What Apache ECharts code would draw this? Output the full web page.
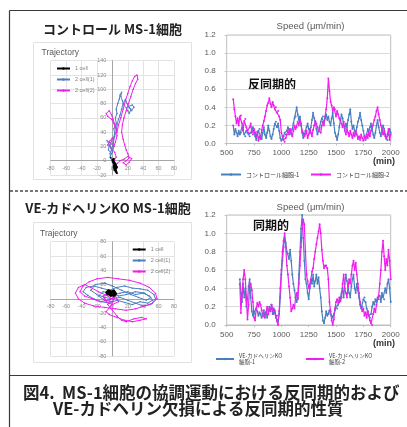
<!DOCTYPE html>
<html>
<head>
<meta charset="utf-8">
<script src="https://cdn.jsdelivr.net/npm/echarts@6/dist/echarts.min.js"></script>
<style>
  html, body { margin: 0; padding: 0; background: #fff; }
  #chart { width: 407px; height: 427px; }
</style>
</head>
<body>
<div id="chart"></div>
<script>
// sampling grid of the speed curves (min)
const ctrlStart = 560;
const koStart = 620;
const timeStep = 10;

// control MS-1, speed (um/min)
const ctrlCell1 = [
  0.20, 0.10, 0.16, 0.12, 0.08, 0.14, 0.10, 0.12, 0.18, 0.14,
  0.10, 0.08, 0.14, 0.12, 0.10, 0.08, 0.12, 0.15, 0.18, 0.12,
  0.08, 0.04, 0.10, 0.14, 0.16, 0.08, 0.05, 0.12, 0.18, 0.10,
  0.06, 0.12, 0.20, 0.14, 0.08, 0.05, 0.10, 0.16, 0.22, 0.24,
  0.18, 0.22, 0.14, 0.06, 0.03, 0.05, 0.08, 0.12, 0.10, 0.14,
  0.18, 0.16, 0.12, 0.10, 0.16, 0.22, 0.28, 0.30, 0.40, 0.32,
  0.26, 0.30, 0.20, 0.12, 0.06, 0.08, 0.14, 0.18, 0.22, 0.16,
  0.12, 0.18, 0.26, 0.34, 0.28, 0.24, 0.16, 0.10, 0.14, 0.18,
  0.24, 0.28, 0.30, 0.24, 0.28, 0.32, 0.26, 0.30, 0.24, 0.20,
  0.28, 0.34, 0.22, 0.12, 0.08, 0.04, 0.10, 0.18, 0.26, 0.32,
  0.28, 0.20, 0.16, 0.22, 0.18, 0.26, 0.32, 0.38, 0.24, 0.16,
  0.20, 0.14, 0.10, 0.18, 0.24, 0.28, 0.34, 0.26, 0.20, 0.14,
  0.08, 0.04, 0.10, 0.16, 0.12, 0.18, 0.22, 0.16, 0.10, 0.06,
  0.12, 0.20, 0.26, 0.18, 0.12, 0.08, 0.14, 0.20, 0.16, 0.10,
  0.06, 0.04, 0.10, 0.16, 0.12
];
const ctrlCell2 = [
  0.49, 0.38, 0.30, 0.22, 0.28, 0.20, 0.30, 0.31, 0.22, 0.15,
  0.25, 0.27, 0.18, 0.14, 0.12, 0.18, 0.22, 0.12, 0.10, 0.16,
  0.12, 0.08, 0.13, 0.03, 0.08, 0.05, 0.15, 0.20, 0.25, 0.30,
  0.36, 0.42, 0.45, 0.50, 0.44, 0.40, 0.46, 0.42, 0.38, 0.40,
  0.34, 0.36, 0.30, 0.26, 0.12, 0.08, 0.04, 0.02, 0.06, 0.10,
  0.14, 0.10, 0.16, 0.12, 0.08, 0.14, 0.20, 0.16, 0.18, 0.24,
  0.20, 0.26, 0.22, 0.14, 0.12, 0.08, 0.10, 0.14, 0.06, 0.10,
  0.16, 0.12, 0.08, 0.15, 0.20, 0.25, 0.22, 0.18, 0.14, 0.16,
  0.12, 0.20, 0.24, 0.20, 0.30, 0.38, 0.50, 0.72, 0.58, 0.46,
  0.42, 0.36, 0.40, 0.38, 0.30, 0.36, 0.32, 0.28, 0.26, 0.22,
  0.18, 0.24, 0.14, 0.10, 0.16, 0.12, 0.08, 0.14, 0.10, 0.06,
  0.12, 0.08, 0.14, 0.10, 0.05, 0.08, 0.04, 0.10, 0.06, 0.03,
  0.08, 0.05, 0.10, 0.06, 0.12, 0.08, 0.14, 0.18, 0.20, 0.26,
  0.30, 0.36, 0.40, 0.32, 0.26, 0.20, 0.16, 0.10, 0.14, 0.08,
  0.05, 0.10, 0.16, 0.04, 0.10
];

// VE-cadherin KO MS-1, speed (um/min)
const koCell1 = [
  0.50, 0.35, 0.25, 0.45, 0.30, 0.40, 0.20, 0.28, 0.42, 0.50,
  0.30, 0.15, 0.10, 0.14, 0.12, 0.18, 0.15, 0.10, 0.14, 0.12,
  0.08, 0.12, 0.16, 0.10, 0.14, 0.08, 0.12, 0.20, 0.15, 0.22,
  0.12, 0.18, 0.14, 0.08, 0.10, 0.05, 0.12, 0.30, 0.55, 0.70,
  0.85, 0.95, 0.90, 0.80, 0.78, 0.72, 0.82, 0.70, 0.55, 0.45,
  0.38, 0.30, 0.25, 0.30, 0.55, 0.80, 1.05, 1.20, 0.95, 0.70,
  0.50, 0.45, 0.35, 0.28, 0.40, 0.50, 0.45, 0.55, 0.42, 0.48,
  0.55, 0.45, 0.52, 0.40, 0.30, 0.15, 0.05, 0.02, 0.08, 0.15,
  0.10, 0.12, 0.16, 0.12, 0.10, 0.08, 0.12, 0.16, 0.20, 0.18,
  0.22, 0.25, 0.30, 0.35, 0.40, 0.30, 0.45, 0.55, 0.48, 0.40,
  0.35, 0.30, 0.42, 0.50, 0.55, 0.40, 0.35, 0.45, 0.38, 0.30,
  0.22, 0.18, 0.20, 0.28, 0.30, 0.25, 0.18, 0.15, 0.10, 0.08,
  0.12, 0.20, 0.25, 0.22, 0.28, 0.25, 0.30, 0.28, 0.32, 0.25,
  0.35, 0.30, 0.28, 0.40, 0.35, 0.45, 0.50, 0.40, 0.25
];
const koCell2 = [
  0.45, 0.13, 0.35, 0.50, 0.60, 0.50, 0.30, 0.06, 0.22, 0.42,
  0.45, 0.38, 0.25, 0.08, 0.05, 0.18, 0.24, 0.20, 0.25, 0.22,
  0.16, 0.10, 0.12, 0.08, 0.14, 0.20, 0.12, 0.18, 0.15, 0.22,
  0.18, 0.12, 0.16, 0.10, 0.04, 0.00, 0.15, 0.40, 0.60, 0.80,
  0.92, 1.00, 0.85, 0.65, 0.55, 0.42, 0.30, 0.15, 0.18, 0.22,
  0.18, 0.30, 0.35, 0.28, 0.45, 0.65, 0.85, 1.05, 1.15, 1.10,
  0.80, 0.55, 0.48, 0.40, 0.42, 0.50, 0.58, 0.62, 0.72, 0.80,
  0.88, 0.95, 1.02, 1.10, 1.00, 0.82, 0.70, 0.62, 0.65, 0.65,
  0.62, 0.50, 0.25, 0.15, 0.05, 0.00, 0.06, 0.18, 0.25, 0.28,
  0.24, 0.30, 0.26, 0.30, 0.45, 0.55, 0.40, 0.35, 0.30, 0.42,
  0.50, 0.45, 0.55, 0.65, 0.70, 0.60, 0.68, 0.55, 0.45, 0.35,
  0.25, 0.20, 0.15, 0.18, 0.10, 0.14, 0.08, 0.15, 0.10, 0.05,
  0.02, 0.00, 0.12, 0.18, 0.14, 0.22, 0.28, 0.32, 0.45, 0.60,
  0.80, 0.92, 0.75, 0.60, 0.72, 0.65, 0.82, 0.70, 0.50
];

// trajectories [x, y] (um)
const ctrlTraj1 = [
  [0, 0], [2, 3], [1, -2], [3, -5], [2, -8], [4, -10], [3, -14], [5, -16], [4, -12], [6, -9],
  [4, -6], [2, -3], [0, 2], [-2, 4], [1, 1], [3, -3], [5, -7], [4, -11], [5, -15], [6, -18],
  [4, -13], [2, -6]
];
const ctrlTraj2a = [
  [0, 0], [-3, 5], [-1, 10], [-5, 15], [-4, 22], [-7, 28], [-3, 25], [-2, 18], [0, 12], [2, 20],
  [1, 30], [3, 38], [2, 45], [5, 52], [4, 60], [6, 66], [5, 72], [7, 80], [9, 86], [10, 92],
  [12, 96], [11, 90], [13, 84], [15, 78], [18, 74], [20, 70], [22, 66], [24, 72], [21, 76], [26, 78],
  [28, 75], [25, 70], [22, 74], [19, 80], [17, 86], [14, 80], [12, 72], [10, 64], [8, 58], [6, 50],
  [5, 42], [3, 34], [1, 24], [-1, 16], [-3, 10], [-2, 4], [0, -2], [2, -5], [1, -10], [3, -6]
];
const ctrlTraj2b = [
  [2, 0], [5, 5], [3, 12], [-2, 18], [-6, 22], [-3, 28], [0, 32], [-2, 24], [2, 20], [4, 26],
  [6, 35], [5, 44], [2, 52], [-1, 58], [-6, 62], [-8, 66], [-4, 70], [-1, 64], [1, 58], [4, 48],
  [6, 40], [8, 50], [11, 60], [14, 72], [17, 84], [20, 94], [23, 104], [26, 112], [29, 118], [32, 120],
  [33, 114], [30, 108], [27, 100], [24, 90], [21, 80], [18, 70], [15, 60], [13, 50], [12, 40], [14, 30],
  [16, 22], [18, 15], [20, 10], [22, 4], [18, 0], [14, -3], [18, -6], [22, -2], [25, 3], [20, 6],
  [15, 2], [10, 0], [6, -4], [4, -8]
];
const koTraj1 = [
  [0, 5], [-3, 8], [-6, 6], [-8, 9], [-5, 12], [-1, 10], [2, 12], [4, 8], [1, 6], [-2, 4],
  [-5, 7], [-3, 11], [0, 9], [3, 10], [5, 7], [2, 4], [-1, 6], [-4, 9]
];
const koTraj2a = [
  [0, 5], [10, 8], [20, 10], [30, 6], [40, 8], [48, 4], [52, -2], [46, -6], [36, -4], [26, -8],
  [16, -5], [6, -2], [-4, -6], [-14, -4], [-24, 0], [-32, 5], [-38, 10], [-34, 16], [-24, 18], [-14, 15],
  [-4, 12], [6, 16], [16, 18], [26, 15], [36, 14], [46, 12], [54, 6], [56, 0], [50, -8], [40, -10],
  [30, -6], [20, -2], [10, 2], [0, 0], [-10, 2], [-20, 6], [-28, 12], [-22, 20], [-10, 22], [0, 18],
  [12, 12], [24, 6], [34, 2], [44, -2], [50, 2], [42, 8], [30, 10], [18, 6], [8, 4], [-2, 8],
  [-12, 10], [-18, 4], [-10, -2], [0, -4]
];
const koTraj2b = [
  [0, 0], [-8, 5], [-18, 10], [-28, 16], [-36, 20], [-44, 16], [-48, 8], [-44, 0], [-36, -6], [-24, -10],
  [-10, -12], [4, -14], [18, -16], [30, -14], [42, -10], [52, -6], [58, 0], [56, 8], [48, 16], [36, 22],
  [22, 26], [8, 28], [-6, 30], [-20, 28], [-30, 24], [-38, 18], [-42, 10], [-36, 4], [-26, 0], [-16, -4],
  [-6, -2], [2, 2], [-4, 8], [-12, 4], [-8, -4], [0, -8], [8, -4], [4, 4], [-2, -10], [-8, -18],
  [-4, -22], [6, -26], [16, -30], [26, -32], [36, -30], [44, -28], [38, -26], [28, -28], [18, -32], [12, -30],
  [6, -24], [0, -16], [-6, -8], [-2, 0]
];

const trajNames = ["1 cell", "2 cell(1)", "2 cell(2)"];
const ctrlNames = ["コントロール細胞-1", "コントロール細胞-2"];
const koNames = ["VE-カドヘリンKO細胞-1", "VE-カドヘリンKO細胞-2"];

const BLUE = "#4a7fbf";
const MAGENTA = "#f01ef0";
const LATIN = "'Liberation Sans', Arial, sans-serif";
const CJK = "'Noto Sans CJK JP', sans-serif";

// plot boxes, px
const trajW = 123.3;
const trajH = 114.3;
const trajBoxes = [
  { left: 50.7, top: 60.7, yMin: -20, yMax: 140 },
  { left: 50.7, top: 241.7, yMin: -80, yMax: 80 },
];

function toPairs(start, values) {
  return values.map((v, i) => [start + i * timeStep, v]);
}

// excel style: axes cross at (0, 0), labels next to the crossing lines
function trajAxes(gridIndex, box) {
  const common = {
    type: "value",
    gridIndex: gridIndex,
    interval: 20,
    axisLine: { onZero: false, lineStyle: { color: "#a6a6a6", width: 1 } },
    axisTick: { show: false },
    splitLine: { lineStyle: { color: "#e3e3e3", width: 1 } },
  };
  const xOffset = -trajW * 0.5;
  const yOffset = -trajH * (0 - box.yMin) / (box.yMax - box.yMin);
  return {
    x: Object.assign({}, common, {
      min: -80,
      max: 80,
      position: "bottom",
      offset: yOffset,
      axisLabel: { fontSize: 5.5, color: "#8c8c8c", margin: 5, fontFamily: LATIN },
    }),
    y: Object.assign({}, common, {
      min: box.yMin,
      max: box.yMax,
      position: "left",
      offset: xOffset,
      axisLabel: { fontSize: 5.5, color: "#8c8c8c", margin: 6, fontFamily: LATIN },
    }),
  };
}

function speedAxes(gridIndex, labelMargin) {
  return {
    x: {
      type: "value",
      gridIndex: gridIndex,
      min: 500,
      max: 2000,
      interval: 250,
      axisLine: { show: true, lineStyle: { color: "#bfbfbf" } },
      axisTick: { show: true, length: 2, lineStyle: { color: "#bfbfbf" } },
      splitLine: { show: false },
      axisLabel: {
        fontSize: 8,
        color: "#595959",
        margin: labelMargin,
        fontFamily: LATIN,
        formatter: (v) => String(v),
      },
    },
    y: {
      type: "value",
      gridIndex: gridIndex,
      min: 0,
      max: 1.2,
      interval: 0.2,
      axisLine: { show: false },
      axisTick: { show: true, length: 2, lineStyle: { color: "#bfbfbf" } },
      splitLine: { lineStyle: { color: "#d9d9d9" } },
      axisLabel: {
        fontSize: 8,
        color: "#595959",
        margin: 11,
        fontFamily: LATIN,
        formatter: (v) => v.toFixed(1),
      },
    },
  };
}

function trajSeries(axisIndex, name, data, color, width, z) {
  return {
    name: name,
    type: "line",
    xAxisIndex: axisIndex,
    yAxisIndex: axisIndex,
    data: data,
    color: color,
    symbol: "circle",
    symbolSize: 1.5,
    lineStyle: { width: width },
    z: z,
  };
}

function speedSeries(axisIndex, name, start, values, color) {
  return {
    name: name,
    type: "line",
    xAxisIndex: axisIndex,
    yAxisIndex: axisIndex,
    data: toPairs(start, values),
    color: color,
    symbol: "circle",
    symbolSize: 2,
    showSymbol: true,
    lineStyle: { width: 1.2 },
  };
}

function text(x, y, str, font, fill, align) {
  return {
    type: "text",
    x: x,
    y: y,
    style: {
      text: str,
      font: font,
      fill: fill,
      align: align || "left",
      verticalAlign: "middle",
      textAlign: align || "left",
      textVerticalAlign: "middle",
    },
  };
}

const ta = trajAxes(0, trajBoxes[0]);
const sa = speedAxes(1, 5);
const tb = trajAxes(2, trajBoxes[1]);
const sb = speedAxes(3, 6);

const chart = echarts.init(document.getElementById("chart"), null, { renderer: "canvas" });

const option = {
  backgroundColor: "#ffffff",
  animation: false,
  grid: [
    { left: trajBoxes[0].left, top: trajBoxes[0].top, width: trajW, height: trajH, outerBoundsMode: "none" },
    { left: 226.7, top: 35, width: 164, height: 108.5, outerBoundsMode: "none",
      show: true, borderColor: "#bfbfbf", borderWidth: 1 },
    { left: trajBoxes[1].left, top: trajBoxes[1].top, width: trajW, height: trajH, outerBoundsMode: "none" },
    { left: 226.7, top: 215, width: 164, height: 110, outerBoundsMode: "none",
      show: true, borderColor: "#bfbfbf", borderWidth: 1 },
  ],
  xAxis: [ta.x, sa.x, tb.x, sb.x],
  yAxis: [ta.y, sa.y, tb.y, sb.y],
  legend: [
    {
      data: trajNames, orient: "vertical", left: 56, top: 65.5, padding: 0,
      itemWidth: 13, itemHeight: 3, itemGap: 5, itemStyle: { borderWidth: 0 },
      textStyle: { fontSize: 5.5, color: "#7f7f7f", fontFamily: LATIN },
    },
    {
      data: trajNames, orient: "vertical", left: 131.7, top: 246.5, padding: 0,
      itemWidth: 13, itemHeight: 3, itemGap: 5, itemStyle: { borderWidth: 0 },
      textStyle: { fontSize: 5.5, color: "#7f7f7f", fontFamily: LATIN },
    },
    {
      data: [ctrlNames[0]], left: 220, top: 171.5, padding: 0,
      itemWidth: 20, itemHeight: 3, itemGap: 8,
      textStyle: { fontSize: 6, color: "#404040", fontFamily: CJK },
    },
    {
      data: [ctrlNames[1]], left: 310, top: 171.5, padding: 0,
      itemWidth: 20, itemHeight: 3, itemGap: 8,
      textStyle: { fontSize: 6, color: "#404040", fontFamily: CJK },
    },
    {
      data: [koNames[0]], left: 215, top: 352.5, padding: 0,
      itemWidth: 18, itemHeight: 3,
      formatter: (n) => n.replace("KO", "KO\n"),
      textStyle: { fontSize: 5.5, lineHeight: 6.5, color: "#404040", fontFamily: CJK },
    },
    {
      data: [koNames[1]], left: 305, top: 352.5, padding: 0,
      itemWidth: 18, itemHeight: 3,
      formatter: (n) => n.replace("KO", "KO\n"),
      textStyle: { fontSize: 5.5, lineHeight: 6.5, color: "#404040", fontFamily: CJK },
    },
  ],
  series: [
    trajSeries(0, trajNames[1], ctrlTraj2a, BLUE, 1, 2),
    trajSeries(0, trajNames[2], ctrlTraj2b, MAGENTA, 1, 3),
    trajSeries(0, trajNames[0], ctrlTraj1, "#000000", 2, 4),
    speedSeries(1, ctrlNames[0], ctrlStart, ctrlCell1, BLUE),
    speedSeries(1, ctrlNames[1], ctrlStart, ctrlCell2, MAGENTA),
    trajSeries(2, trajNames[1], koTraj2a, BLUE, 1, 2),
    trajSeries(2, trajNames[2], koTraj2b, MAGENTA, 1, 3),
    trajSeries(2, trajNames[0], koTraj1, "#000000", 2, 4),
    speedSeries(3, koNames[0], koStart, koCell1, BLUE),
    speedSeries(3, koNames[1], koStart, koCell2, MAGENTA),
  ],
  graphic: [
    // frame of the figure
    { type: "line", shape: { x1: 9.5, y1: 10.5, x2: 407, y2: 10.5 }, style: { stroke: "#3a3a3a", lineWidth: 1.2 } },
    { type: "line", shape: { x1: 9.5, y1: 10.5, x2: 9.5, y2: 427 }, style: { stroke: "#3a3a3a", lineWidth: 1.2 } },
    { type: "line", shape: { x1: 9.5, y1: 375.5, x2: 407, y2: 375.5 }, style: { stroke: "#3a3a3a", lineWidth: 1.2 } },
    { type: "line", shape: { x1: 10, y1: 191, x2: 407, y2: 191 },
      style: { stroke: "#4a4a4a", lineWidth: 1.3, lineDash: [3, 2] } },
    // trajectory chart boxes
    { type: "rect", shape: { x: 33.5, y: 42.5, width: 158, height: 137 },
      style: { fill: "none", stroke: "#e2e2e2", lineWidth: 1 } },
    { type: "rect", shape: { x: 33.5, y: 222.5, width: 158, height: 140 },
      style: { fill: "none", stroke: "#e2e2e2", lineWidth: 1 } },
    // panel titles
    text(112.5, 29, "コントロール MS-1細胞", "bold 13px " + CJK, "#222", "center"),
    text(108, 208.5, "VE-カドヘリンKO MS-1細胞", "bold 13px " + CJK, "#222", "center"),
    text(41.5, 52.5, "Trajectory", "8.5px " + LATIN, "#595959"),
    text(40, 233.5, "Trajectory", "8.5px " + LATIN, "#595959"),
    text(310.5, 26, "Speed (μm/min)", "9.5px " + LATIN, "#595959", "center"),
    text(310.5, 207.5, "Speed (μm/min)", "9.5px " + LATIN, "#595959", "center"),
    text(384, 161.5, "(min)", "bold 9px " + LATIN, "#333", "center"),
    text(384, 344, "(min)", "bold 9px " + LATIN, "#333", "center"),
    text(248, 84, "反同期的", "bold 12px " + CJK, "#111"),
    text(253, 225, "同期的", "bold 12px " + CJK, "#111"),
    // caption
    text(23, 393, "図4.  MS-1細胞の協調運動における反同期的および", "bold 16.5px " + CJK, "#222"),
    text(53, 409, "VE-カドヘリン欠損による反同期的性質", "bold 16.5px " + CJK, "#222"),
  ],
};

chart.setOption(option);
</script>
</body>
</html>
